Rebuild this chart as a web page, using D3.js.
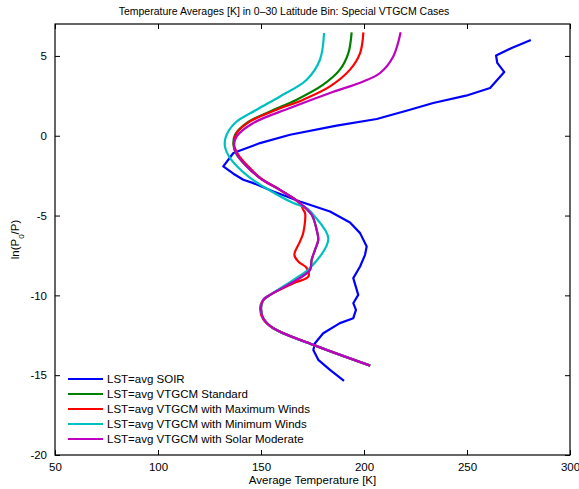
<!DOCTYPE html>
<html>
<head>
<meta charset="utf-8">
<script src="https://cdn.jsdelivr.net/npm/d3@7"></script>
<style>
body { margin: 0; background: #fff; }
text { font-family: "Liberation Sans", Arial, sans-serif; }
</style>
</head>
<body>
<div id="chart"></div>
<script>
// temperature [K] vs ln(P0/P)
var soirT = [281, 271.7, 264.1, 264.7, 268.1, 261.2, 249.5, 233.6, 222.3, 206.2, 186.7, 164.1, 149.5, 136.6, 131.7, 136.6, 141.4, 146.3, 156, 162.5, 168.9, 183.5, 193.2, 198.1, 201.3, 200.5, 198.1, 194.8, 197.2, 194.8, 196.1, 194.8, 188.3, 180.2, 176.2, 175.4, 177.8, 183.5, 190.3];
var soirP = [6, 5.5, 5.03, 4.56, 3.99, 2.99, 2.51, 2.05, 1.63, 1.05, 0.63, 0.06, -0.46, -1.08, -1.92, -2.38, -2.76, -2.97, -3.49, -3.81, -4.12, -4.75, -5.44, -6.1, -6.94, -7.46, -8.19, -8.92, -9.97, -10.49, -10.91, -11.43, -11.74, -12.37, -13, -13.42, -14.04, -14.67, -15.36];

var stdT = [194, 192.4, 188.3, 180.2, 167.3, 154.4, 143.1, 137.4, 136.6, 138.2, 143.1, 149.5, 159.2, 168.9, 174.6, 177, 177.8, 176.2, 174.6, 173.8, 167.3, 154.4, 151.1, 150, 151.1, 156, 175.4, 203];
var stdP = [6.48, 5.18, 4.14, 3.2, 2.26, 1.52, 0.8, 0.06, -0.56, -1.19, -1.92, -2.65, -3.39, -4.22, -4.95, -5.89, -6.52, -7.15, -7.77, -8.4, -9.03, -9.97, -10.28, -10.8, -11.43, -12.06, -13.1, -14.4];

var maxT = [199.7, 198.1, 193.2, 183.5, 170.5, 157.6, 144.7, 138.2, 136.9, 139, 143.8, 150.3, 159.2, 168.9, 170.5, 171.4, 170.5, 168.9, 166.2, 168.1, 172.2, 173, 165.7, 154.4, 150.5, 149.6, 151.1, 156, 175.4, 203];
var maxP = [6.48, 5.18, 4.14, 3.09, 2.26, 1.63, 0.9, 0.17, -0.56, -1.19, -1.92, -2.71, -3.39, -4.22, -4.64, -4.85, -6.1, -6.63, -7.46, -7.88, -8.29, -8.82, -9.24, -9.97, -10.4, -10.85, -11.5, -12.06, -13.1, -14.4];

var minT = [180.6, 178.6, 172.2, 159.2, 147.9, 137.4, 133, 132.5, 135, 143.8, 151.1, 165.7, 172.2, 175.4, 182.7, 173.8, 165.7, 154.4, 151.1, 150, 151.1, 156, 175.4, 203];
var minP = [6.44, 4.76, 3.51, 2.46, 1.63, 0.8, -0.04, -0.67, -1.4, -2.55, -3.18, -4.22, -4.53, -4.95, -6.46, -8.29, -9.03, -9.97, -10.28, -10.8, -11.43, -12.06, -13.1, -14.4];

var solT = [217.8, 214.2, 207.8, 199.7, 183.5, 164.1, 146.3, 138.2, 136.9, 139, 143.1, 149.5, 159.2, 168.9, 174.6, 177, 177.8, 176.2, 174.6, 173.8, 167.3, 154.4, 151.1, 150, 151.1, 156, 175.4, 203];
var solP = [6.48, 4.97, 3.93, 3.4, 2.68, 1.74, 0.8, -0.04, -0.67, -1.3, -1.92, -2.65, -3.39, -4.22, -4.95, -5.89, -6.52, -7.15, -7.77, -8.4, -9.03, -9.97, -10.28, -10.8, -11.43, -12.06, -13.1, -14.4];

var seriesNames = ["LST=avg SOIR", "LST=avg VTGCM Standard", "LST=avg VTGCM with Maximum Winds", "LST=avg VTGCM with Minimum Winds", "LST=avg VTGCM with Solar Moderate"];
var seriesColors = ["#0000ff", "#008000", "#ff0000", "#00bfbf", "#bf00bf"];
var xTicks = [50, 100, 150, 200, 250, 300];
var yTicks = [5, 0, -5, -10, -15, -20];

var series = [[soirT, soirP], [stdT, stdP], [maxT, maxP], [minT, minP], [solT, solP]].map(function (s, i) {
    return {
        name: seriesNames[i],
        color: seriesColors[i],
        values: s[0].map(function (t, j) { return { t: t, p: s[1][j] }; })
    };
});

var width = 579, height = 489;
var mLeft = 55, mRight = 570, mTop = 24, mBottom = 455;

var svg = d3.select("#chart")
    .append("svg")
    .attr("width", width)
    .attr("height", height);

var x = d3.scaleLinear().domain([50, 300]).range([mLeft, mRight]);
var y = d3.scaleLinear().domain([-20, 7]).range([mBottom, mTop]);

// lines
series.forEach(function (s, i) {
    var line = d3.line()
        .x(function (d) { return x(d.t); })
        .y(function (d) { return y(d.p); })
        .curve(i == 0 ? d3.curveLinear : d3.curveCatmullRom.alpha(0.5));
    svg.append("path")
        .datum(s.values)
        .attr("d", line)
        .attr("fill", "none")
        .attr("stroke", s.color)
        .attr("stroke-width", 2.2)
        .attr("stroke-linejoin", "round");
});

// axes (inward ticks on all sides, MATLAB style)
svg.append("g")
    .attr("transform", "translate(0," + mBottom + ")")
    .call(d3.axisBottom(x).tickValues(xTicks).tickSizeInner(-5).tickSizeOuter(0).tickPadding(8));
svg.append("g")
    .attr("transform", "translate(0," + mTop + ")")
    .call(d3.axisTop(x).tickValues(xTicks).tickSizeInner(-5).tickSizeOuter(0).tickFormat(""));
svg.append("g")
    .attr("transform", "translate(" + mLeft + ",0)")
    .call(d3.axisLeft(y).tickValues(yTicks).tickSizeInner(-5).tickSizeOuter(0).tickPadding(8)
        .tickFormat(function (d) { return String(d); }));
svg.append("g")
    .attr("transform", "translate(" + mRight + ",0)")
    .call(d3.axisRight(y).tickValues(yTicks).tickSizeInner(-5).tickSizeOuter(0).tickFormat(""));

svg.selectAll(".domain").remove();
svg.selectAll(".tick text").attr("font-size", 11.5).attr("fill", "#000")
    .style("font-family", "Liberation Sans, Arial, sans-serif");
svg.selectAll(".tick line").attr("stroke", "#000");

svg.append("rect")
    .attr("x", mLeft).attr("y", mTop)
    .attr("width", mRight - mLeft).attr("height", mBottom - mTop)
    .attr("fill", "none").attr("stroke", "#000").attr("stroke-width", 1.2);

// titles
svg.append("text")
    .attr("x", 284).attr("y", 15)
    .attr("text-anchor", "middle").attr("font-size", 10.5)
    .text("Temperature Averages [K] in 0\u201330 Latitude Bin: Special VTGCM Cases");

svg.append("text")
    .attr("x", (mLeft + mRight) / 2).attr("y", 484)
    .attr("text-anchor", "middle").attr("font-size", 11.5)
    .text("Average Temperature [K]");

var yl = svg.append("text")
    .attr("transform", "translate(19," + ((mTop + mBottom) / 2) + ") rotate(-90)")
    .attr("text-anchor", "middle").attr("font-size", 11.5);
yl.append("tspan").text("ln(P");
yl.append("tspan").attr("baseline-shift", "sub").attr("font-size", 8).text("0");
yl.append("tspan").text("/P)");

// legend
var legend = svg.append("g");
series.forEach(function (s, i) {
    var ly = 379 + i * 15;
    legend.append("line")
        .attr("x1", 68).attr("x2", 103)
        .attr("y1", ly).attr("y2", ly)
        .attr("stroke", s.color).attr("stroke-width", 2.2);
    legend.append("text")
        .attr("x", 107).attr("y", ly + 4)
        .attr("font-size", 11.5)
        .text(s.name);
});
</script>
</body>
</html>
